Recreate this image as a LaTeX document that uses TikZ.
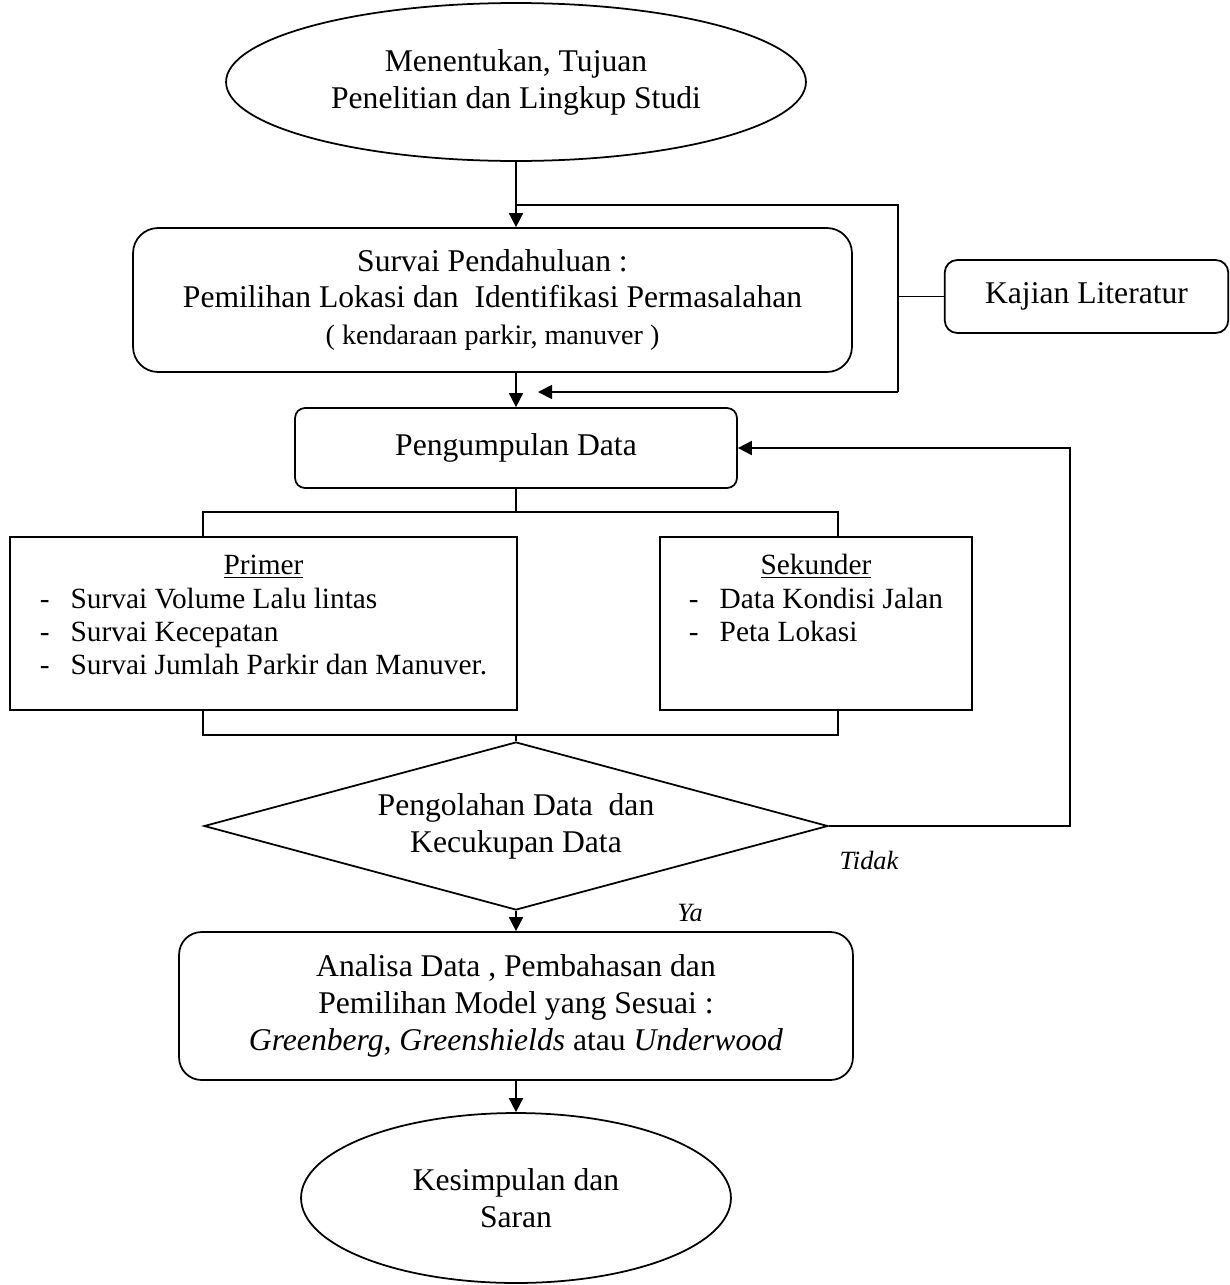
\documentclass[tikz,border=0pt]{standalone}
\usepackage{fontspec}
\setmainfont{Liberation Serif}
\usepackage{tikz}
\usetikzlibrary{shapes.geometric,arrows.meta}
\tikzstyle{txt}=[font=\fontsize{18}{21}\selectfont, align=center, inner sep=0pt]
\tikzstyle{oval}=[txt, ellipse, draw, line width=1pt]
\tikzstyle{rbox}=[txt, rectangle, draw, line width=1pt]
\tikzstyle{listbox}=[rbox, font=\fontsize{16.7}{19}\selectfont]
\tikzstyle{arr}=[line width=1pt, -{Triangle[length=8pt,width=8pt]}]
\tikzstyle{ln}=[line width=1pt]
\tikzstyle{note}=[font=\fontsize{15}{17}\selectfont\itshape, inner sep=0pt]

\begin{document}
\begin{tikzpicture}[x=0.02cm, y=-0.02cm]
        \useasboundingbox (0,0) rectangle (1230,1285);
        % Start and end of the flow
        \node (start) at (516,82) [oval, minimum width=11.6cm, minimum height=3.16cm] {Menentukan, Tujuan\\Penelitian dan Lingkup Studi};
        \node (selesai) at (516,1198) [oval, minimum width=8.6cm, minimum height=3.4cm] {Kesimpulan dan\\Saran};

        % Process boxes
        \node (survai) at (492.5,300) [rbox, rounded corners=0.5cm, minimum width=14.38cm, minimum height=2.88cm]
            {Survai Pendahuluan :\\Pemilihan Lokasi dan~~Identifikasi Permasalahan\\{\fontsize{16}{18}\selectfont ( kendaraan parkir, manuver )}};
        \node (kajian) at (1086.5,296.5) [rbox, rounded corners=0.25cm, minimum width=5.67cm, minimum height=1.46cm] {Kajian Literatur};
        \node (kumpul) at (516,448) [rbox, rounded corners=0.2cm, minimum width=8.84cm, minimum height=1.6cm] {Pengumpulan Data};
        \node (primer) at (263.5,623.5) [listbox, minimum width=10.14cm, minimum height=3.46cm]
            {\begin{tabular}{@{}c@{\hspace{0.42cm}}l@{}}
             \multicolumn{2}{c}{\underline{Primer}}\\
             - & Survai Volume Lalu lintas\\
             - & Survai Kecepatan\\
             - & Survai Jumlah Parkir dan Manuver.\\[6pt]
             \end{tabular}};
        \node (sekunder) at (816,623.5) [listbox, minimum width=6.24cm, minimum height=3.46cm]
            {\begin{tabular}{@{}c@{\hspace{0.42cm}}l@{}}
             \multicolumn{2}{c}{\underline{Sekunder}}\\
             - & Data Kondisi Jalan\\
             - & Peta Lokasi\\
             & \\[6pt]
             \end{tabular}};
        \node (olah) at (516,826) [txt, diamond, draw, line width=1pt, aspect=3.7, minimum width=12.48cm, minimum height=3.36cm]
            {Pengolahan Data~~dan\\Kecukupan Data};
        \node (analisa) at (516,1006) [rbox, rounded corners=0.45cm, minimum width=13.48cm, minimum height=2.96cm]
            {Analisa Data , Pembahasan dan\\Pemilihan Model yang Sesuai :\\\textit{Greenberg}, \textit{Greenshields} atau \textit{Underwood}};

        % Decision labels
        \node (tidak) at (869,860) [note] {Tidak};
        \node (ya) at (690,913) [note] {Ya};

        % Helper points
        \coordinate (kjtop) at (898,205);
        \coordinate (kjbot) at (898,392);
        \coordinate (kjend) at (538,392);
        \coordinate (split) at (516,512);
        \coordinate (splitL) at (203,512);
        \coordinate (splitR) at (838,512);
        \coordinate (join) at (516,735);
        \coordinate (joinL) at (203,735);
        \coordinate (joinR) at (838,735);
        \coordinate (back) at (1070,827);

        % Connectors
        \draw[arr] (start.south) -- (start.south |- survai.north);
        \draw[ln] (start.south |- kjtop) -- (kjtop) -- (kjbot);
        \draw[arr] (kjbot) -- (kjend);
        \draw[ln] (kajian.west) -- (kajian.west -| kjtop);
        \draw[arr] (start.south |- survai.south) -- (kumpul.north);
        \draw[ln] (kumpul.south) -- (split);
        \draw[ln] (primer.north -| splitL) |- (splitR) -- (sekunder.north -| splitR);
        \draw[ln] (primer.south -| joinL) |- (joinR) -- (sekunder.south -| joinR);
        \draw[ln] (join) -- (olah.north);
        \draw[arr] (olah.east) -- (olah.east -| back) |- (kumpul.east);
        \draw[arr] (olah.south) -- (analisa.north);
        \draw[arr] (analisa.south) -- (selesai.north);
\end{tikzpicture}
\end{document}
